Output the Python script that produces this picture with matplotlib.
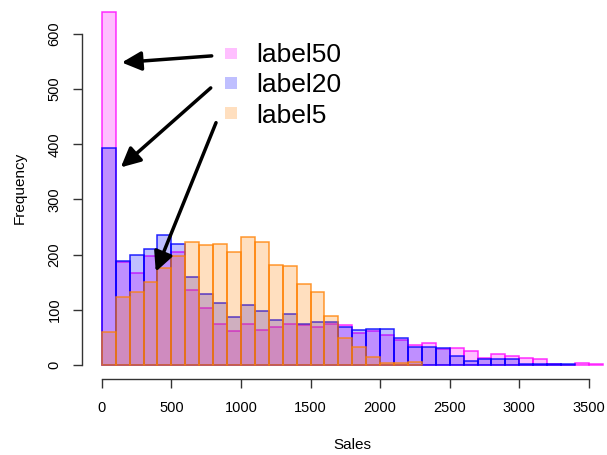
import numpy as np
import matplotlib
matplotlib.use("Agg")
import matplotlib.pyplot as plt
from matplotlib.patches import Rectangle

plt.rcParams['font.family'] = ['Liberation Sans', 'DejaVu Sans']

bin_width = 100
series_labels = ["label50", "label20", "label5"]

# counts per 100-wide bin starting at 0
counts_label50 = [640, 186, 167, 197, 200, 204, 135, 104, 75, 62, 74, 63, 68, 74, 72, 69,
                  75, 72, 57, 62, 54, 45, 37, 40, 29, 30, 26, 13, 19, 16, 13, 11, 1, 0, 3, 2]
counts_label20 = [394, 188, 199, 211, 235, 220, 159, 128, 112, 86, 108, 98, 81, 92, 74, 77,
                  78, 68, 63, 65, 65, 49, 33, 32, 30, 17, 8, 11, 10, 10, 2, 1, 2, 1]
counts_label5 = [60, 124, 133, 151, 176, 198, 222, 217, 220, 204, 232, 223, 181, 180, 146, 132,
                 88, 49, 33, 15, 3, 3, 6]

fills = [(1, 0, 1, 0.25), (0, 0, 1, 0.25), (1, 0.5, 0, 0.25)]
borders = [(1, 0, 1, 0.8), (0, 0, 1, 0.85), (1, 0.5, 0, 0.8)]

x_ticks = [0, 500, 1000, 1500, 2000, 2500, 3000, 3500]
y_ticks = [0, 100, 200, 300, 400, 500, 600]

# annotation arrows (data coords): start -> end
arrow_starts = [(790, 560), (783, 502), (821, 439)]
arrow_ends = [(144, 548), (137, 358), (388, 169)]

W, H = 607, 455
fig = plt.figure(figsize=(W / 100, H / 100), dpi=100)
ax = fig.add_axes([81.7 / W, 75.7 / H, 541.2 / W, 381.9 / H])
ax.set_xlim(-144, 3744)
ax.set_ylim(-26, 666)

for counts, fc, ec in zip([counts_label50, counts_label20, counts_label5], fills, borders):
    counts = np.asarray(counts)
    lefts = np.arange(len(counts)) * bin_width
    ax.bar(lefts, counts, width=bin_width, align='edge', color=fc, edgecolor=ec,
           linewidth=1.1)

for s in ['top', 'right']:
    ax.spines[s].set_visible(False)
for s in ['left', 'bottom']:
    ax.spines[s].set_color('#333333')
    ax.spines[s].set_linewidth(1.0)
ax.spines['left'].set_bounds(0, 600)
ax.spines['bottom'].set_bounds(0, 3500)
ax.set_xticks(x_ticks)
ax.set_yticks(y_ticks)
ax.set_yticklabels([str(v) for v in y_ticks], rotation=90, va='center')
ax.tick_params(axis='both', length=6.5, width=1.0, color='#333333', labelsize=10.5, pad=9)
ax.tick_params(axis='y', pad=8)
ax.set_xlabel("Sales", fontsize=11, labelpad=17)
ax.set_ylabel("Frequency", fontsize=11, labelpad=15)

for (x0, y0), (x1, y1) in zip(arrow_starts, arrow_ends):
    ax.annotate("", xy=(x1, y1), xytext=(x0, y0),
                arrowprops=dict(arrowstyle='-|>,head_length=0.65,head_width=0.32',
                                mutation_scale=18, lw=2.5, color='black',
                                shrinkA=0, shrinkB=0))

# legend
for i, (lab, fc) in enumerate(zip(series_labels, fills)):
    top = 47.7 + i * 29.8
    fig.patches.append(Rectangle((225 / W, 1 - (top + 11.5) / H), 11.5 / W, 11.5 / H,
                                 transform=fig.transFigure, facecolor=fc, edgecolor='none'))
    fig.text(256 / W, 1 - (62.3 + i * 30.2) / H, lab, fontsize=19, va='baseline', ha='left')

fig.savefig("out.png", dpi=100)
